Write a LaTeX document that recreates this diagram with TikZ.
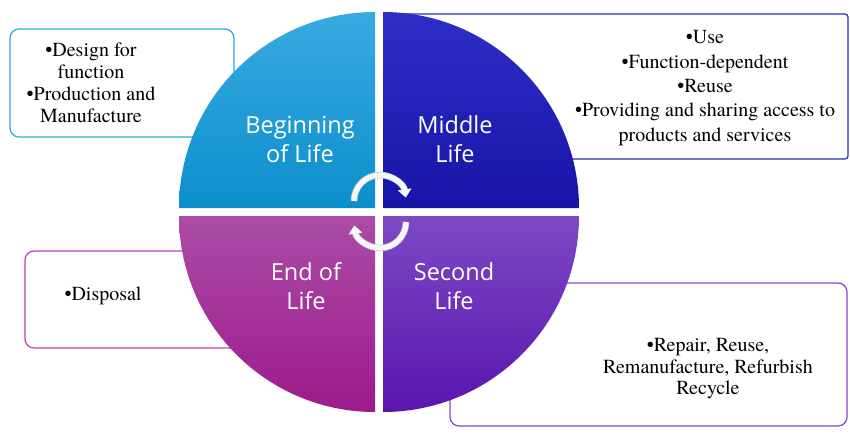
\documentclass[tikz,border=0pt]{standalone}
\usepackage{fontspec}
\newfontfamily\boxfont{texgyretermes}[Extension=.otf, UprightFont=*-regular]
\newfontfamily\phasefont{Open Sans}
\usepackage{tikz}
\usetikzlibrary{arrows.meta, positioning}
\definecolor{bolTop}{HTML}{3AAAE0}
\definecolor{bolBot}{HTML}{0B8FCC}
\definecolor{molTop}{HTML}{2E2EC8}
\definecolor{molBot}{HTML}{1714A6}
\definecolor{eolTop}{HTML}{AA4CA6}
\definecolor{eolBot}{HTML}{9E1A8C}
\definecolor{solTop}{HTML}{7C4AC4}
\definecolor{solBot}{HTML}{5A14B0}
\definecolor{bolLine}{HTML}{2EA8E0}
\definecolor{molLine}{HTML}{2A2AC0}
\definecolor{eolLine}{HTML}{B844AE}
\definecolor{solLine}{HTML}{8446D0}
\tikzstyle{infobox} = [rectangle, rounded corners=9pt, line width=1.2pt, fill=white]
\tikzstyle{bullets} = [align=center, font=\boxfont\fontsize{20}{22}\selectfont]
\tikzstyle{phase} = [align=center, text=white, font=\phasefont\fontsize{23.5}{29}\selectfont]
\tikzstyle{cycle} = [line width=5pt, draw=gray!6, -{Triangle[length=8pt, width=13pt]}, preaction={draw=gray!40, line width=6.5pt}]

\begin{document}
\begin{tikzpicture}[x=1pt, y=-1pt]
\useasboundingbox (0,0) rectangle (850,436);

% Text boxes (behind the circle)
\node (bolbox) [infobox, draw=bolLine, minimum width=224pt, minimum height=108pt] at (122,83) {};
\node (molbox) [infobox, rounded corners=3pt, draw=molLine, minimum width=448pt, minimum height=145pt] at (624,86.5) {};
\node (eolbox) [infobox, draw=eolLine, minimum width=275pt, minimum height=97pt] at (162.5,299.5) {};
\node (solbox) [infobox, draw=solLine, minimum width=397pt, minimum height=143pt] at (648.5,354.5) {};

% Quadrants
\shade [top color=bolTop, bottom color=bolBot] (375,208) -- (179,208) arc (180:270:196) -- cycle;
\shade [top color=molTop, bottom color=molBot] (383,208) -- (383,12) arc (270:360:196) -- cycle;
\shade [top color=eolTop, bottom color=eolBot] (375,216) -- (179,216) arc (180:90:196) -- cycle;
\shade [top color=solTop, bottom color=solBot] (383,216) -- (579,216) arc (0:90:196) -- cycle;

% Phase labels
\node (bol) [phase] at (300,139) {Beginning\\of Life};
\node (mol) [phase] at (455,139) {Middle\\Life};
\node (eol) [phase] at (306,286) {End of\\Life};
\node (sol) [phase] at (454,286) {Second\\Life};

% Box texts
\node (boltext) [bullets] at (91,83) {\textbullet Design for\\function\\\textbullet Production and\\Manufacture};
\node (moltext) [bullets, font=\boxfont\fontsize{20}{24.3}\selectfont] at (705,88) {\textbullet Use\\\textbullet Function-dependent\\\textbullet Reuse\\\textbullet Providing and sharing access to\\products and services};
\node (eoltext) [bullets] at (103,296) {\textbullet Disposal};
\node (soltext) [bullets, font=\boxfont\fontsize{20}{21.5}\selectfont] at (708,369) {\textbullet Repair, Reuse,\\Remanufacture, Refurbish\\Recycle};

% Cycle arrows
\draw [cycle] (354,201) arc (180:352:26);
\draw [cycle] (406,222) arc (0:172:26);

\end{tikzpicture}
\end{document}
